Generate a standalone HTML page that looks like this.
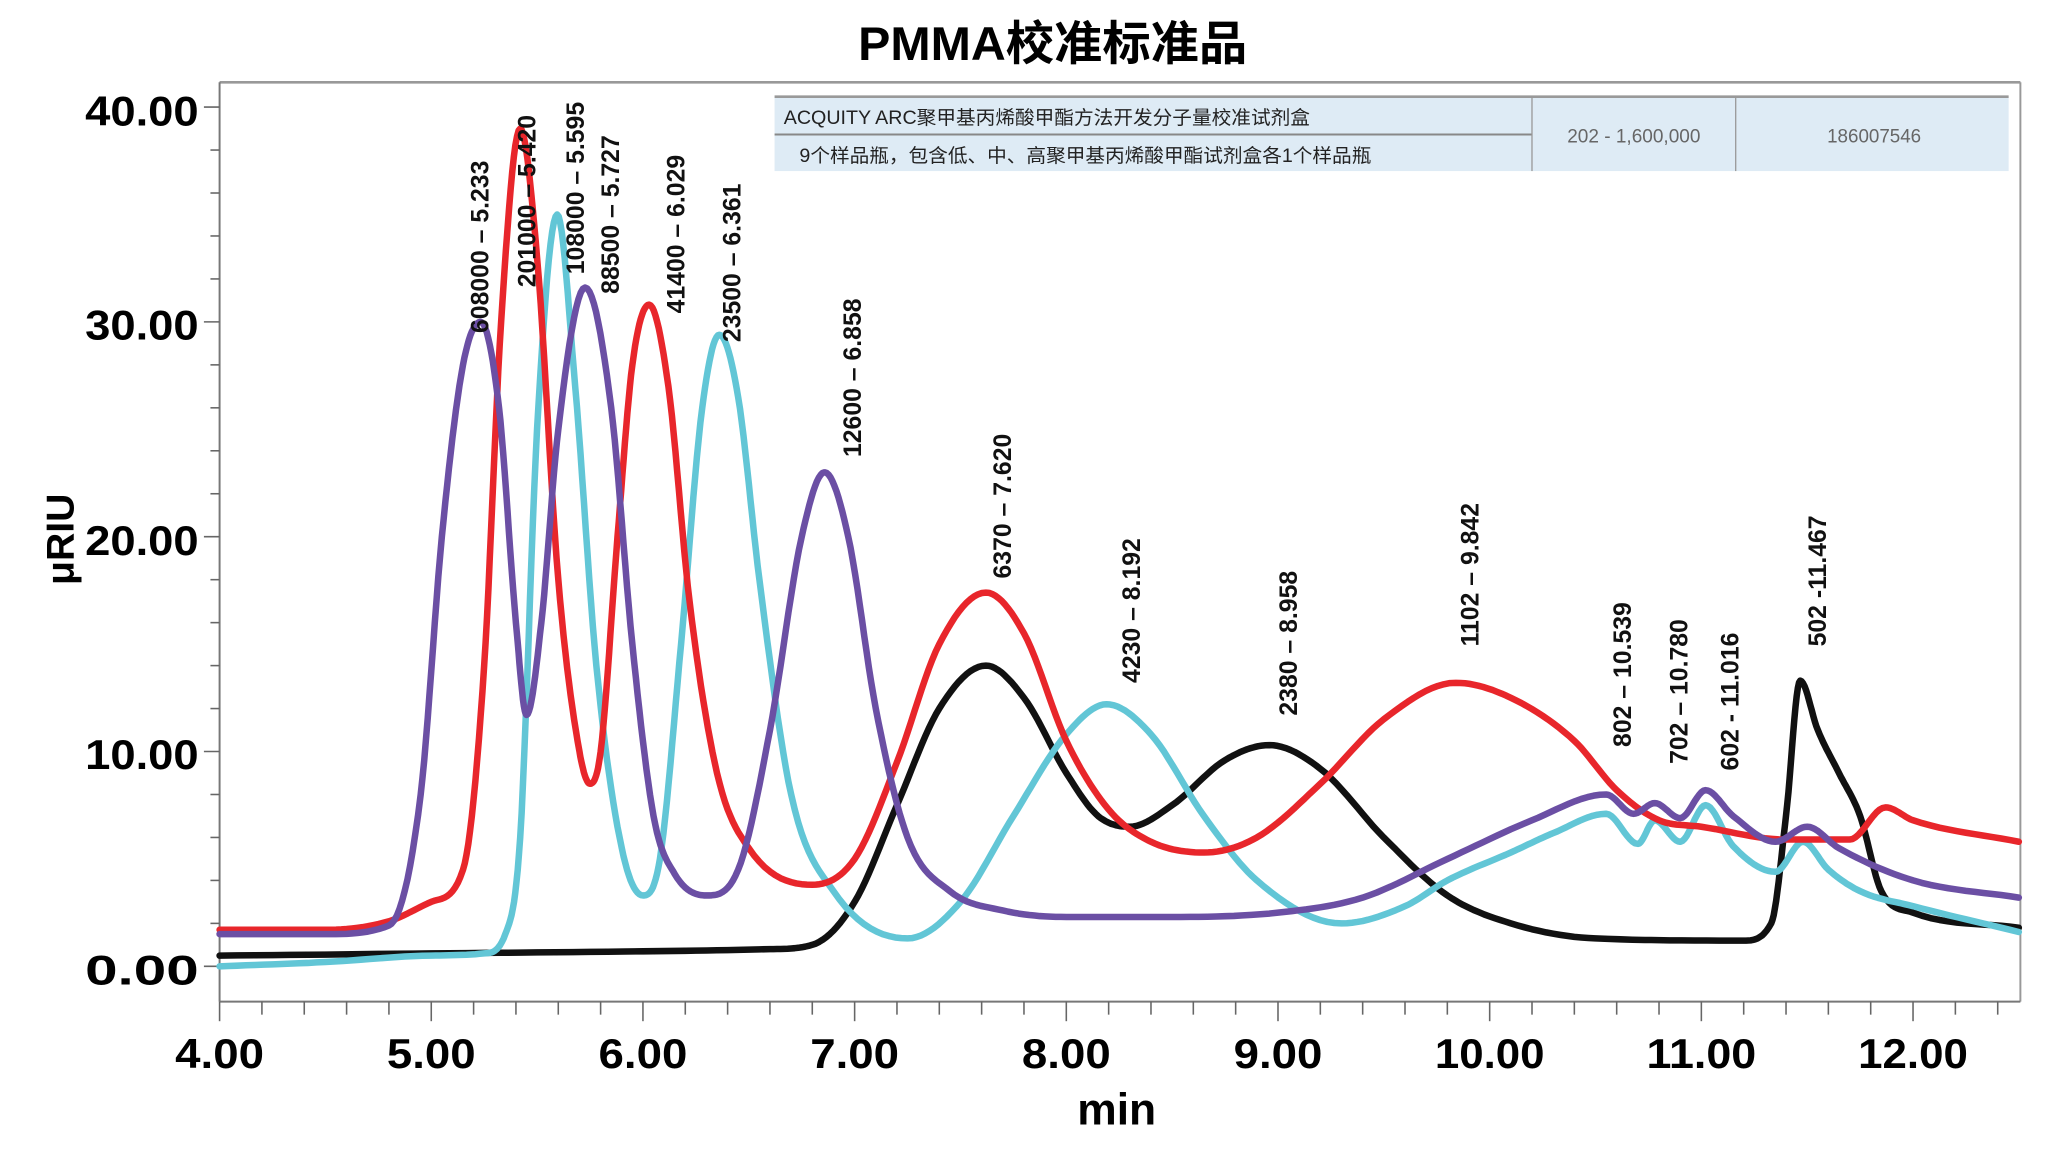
<!DOCTYPE html>
<html><head><meta charset="utf-8">
<style>
html,body{margin:0;padding:0;background:#fff;}
svg{display:block;}
text{font-family:"Liberation Sans","Noto Sans CJK SC",sans-serif;}
</style></head>
<body>
<svg id="s" width="2048" height="1157" viewBox="0 0 1568 886" xmlns="http://www.w3.org/2000/svg">
<rect width="1568" height="886" fill="#fff"/>
<text x="806" y="46" text-anchor="middle" font-size="36" font-weight="bold" fill="#000" textLength="298" lengthAdjust="spacingAndGlyphs">PMMA校准标准品</text>
<line x1="168" y1="63" x2="1547" y2="63" stroke="#999" stroke-width="2"/>
<line x1="1547" y1="63" x2="1547" y2="767" stroke="#999" stroke-width="1.5"/>
<line x1="168" y1="63" x2="168" y2="767" stroke="#777" stroke-width="1.5"/>
<line x1="168" y1="767" x2="1547" y2="767" stroke="#777" stroke-width="1.5"/>
<g id="ticks" stroke="#666" stroke-width="1.2"></g>
<rect x="593" y="74" width="945" height="57" fill="#deebf5"/>
<line x1="593" y1="74" x2="1538" y2="74" stroke="#999" stroke-width="2"/>
<line x1="593" y1="103" x2="1173" y2="103" stroke="#888" stroke-width="1.5"/>
<line x1="1173" y1="74" x2="1173" y2="131" stroke="#999" stroke-width="1"/>
<line x1="1329" y1="74" x2="1329" y2="131" stroke="#999" stroke-width="1"/>
<text x="600" y="95" font-size="14.5" fill="#222" textLength="403" lengthAdjust="spacingAndGlyphs">ACQUITY ARC聚甲基丙烯酸甲酯方法开发分子量校准试剂盒</text>
<text x="612" y="124" font-size="14.5" fill="#222" textLength="438" lengthAdjust="spacingAndGlyphs">9个样品瓶，包含低、中、高聚甲基丙烯酸甲酯试剂盒各1个样品瓶</text>
<text x="1251" y="109" text-anchor="middle" font-size="14.5" fill="#666" textLength="102" lengthAdjust="spacingAndGlyphs">202 - 1,600,000</text>
<text x="1435" y="109" text-anchor="middle" font-size="14.5" fill="#666" textLength="72" lengthAdjust="spacingAndGlyphs">186007546</text>
<g font-size="32" font-weight="bold" fill="#000" text-anchor="end">
<text x="152" y="96" textLength="87" lengthAdjust="spacingAndGlyphs">40.00</text>
<text x="152" y="260" textLength="87" lengthAdjust="spacingAndGlyphs">30.00</text>
<text x="152" y="425" textLength="87" lengthAdjust="spacingAndGlyphs">20.00</text>
<text x="152" y="589" textLength="87" lengthAdjust="spacingAndGlyphs">10.00</text>
<text x="152" y="754" textLength="87" lengthAdjust="spacingAndGlyphs">0.00</text>
</g>
<g id="xl" font-size="32" font-weight="bold" fill="#000" text-anchor="middle"></g>
<text x="855" y="861" text-anchor="middle" font-size="34" font-weight="bold">min</text>
<text transform="translate(56,413) rotate(-90)" text-anchor="middle" font-size="30" font-weight="bold">μRIU</text>
<g id="curves" fill="none" stroke-width="5" stroke-linejoin="round" stroke-linecap="round"></g>
<g id="labels" font-size="19" font-weight="bold" fill="#111"></g>
</svg>
<script>
var NS="http://www.w3.org/2000/svg";
function X(t){return 168+162.1*(t-4);}
function Y(v){return 740-16.45*v;}
function el(n,a,p,txt){var e=document.createElementNS(NS,n);for(var k in a)e.setAttribute(k,a[k]);if(txt!==undefined)e.textContent=txt;p.appendChild(e);return e;}
var tk=document.getElementById('ticks');
for(var v=0;v<=40.01;v+=2){var big=Math.abs(v%10)<0.01;el('line',{x1:big?156:161,y1:Y(v),x2:168,y2:Y(v)},tk);}
for(var i=0;i<=42;i++){var t=4+i*0.2;var big=i%5==0;el('line',{x1:X(t),y1:767,x2:X(t),y2:big?782:777},tk);}
var xl=document.getElementById('xl');
for(var t=4;t<=12;t++){el('text',{x:X(t),y:818,textLength:t>=10?84:68,lengthAdjust:'spacingAndGlyphs'},xl,t.toFixed(2));}
function mono(pts){
 var n=pts.length,x=pts.map(p=>p[0]),y=pts.map(p=>p[1]),d=[],m=[];
 for(var i=0;i<n-1;i++)d.push((y[i+1]-y[i])/(x[i+1]-x[i]));
 m[0]=d[0];m[n-1]=d[n-2];
 for(var i=1;i<n-1;i++){if(d[i-1]*d[i]<=0)m[i]=0;else{m[i]=(d[i-1]+d[i])/2;}}
 for(var i=0;i<n-1;i++){if(d[i]==0){m[i]=0;m[i+1]=0;continue;}var a=m[i]/d[i],b=m[i+1]/d[i],s=a*a+b*b;if(s>9){var tt=3/Math.sqrt(s);m[i]=tt*a*d[i];m[i+1]=tt*b*d[i];}}
 var out="M"+X(x[0]).toFixed(1)+","+Y(y[0]).toFixed(1);
 for(var i=0;i<n-1;i++){var h=x[i+1]-x[i];
  for(var k=1;k<=12;k++){var s=k/12,h00=2*s*s*s-3*s*s+1,h10=s*s*s-2*s*s+s,h01=-2*s*s*s+3*s*s,h11=s*s*s-s*s;
   var yy=h00*y[i]+h10*h*m[i]+h01*y[i+1]+h11*h*m[i+1];out+="L"+X(x[i]+s*h).toFixed(1)+","+Y(yy).toFixed(1);}}
 return out;}
var P=[[4,1.5],[4.5,1.5],[4.8,1.9],[4.95,8],[5.05,20],[5.15,28],[5.233,30],[5.32,26],[5.4,16],[5.45,11.7],[5.52,16],[5.6,25],[5.727,31.6],[5.85,26],[5.95,15],[6.05,7],[6.15,4.3],[6.3,3.3],[6.45,4.5],[6.6,11],[6.75,20],[6.858,23],[6.97,20],[7.1,12],[7.25,6],[7.45,3.5],[7.7,2.6],[8,2.3],[8.5,2.3],[9,2.5],[9.4,3.2],[9.8,5],[10.2,6.8],[10.55,8],[10.68,7.1],[10.78,7.6],[10.9,6.9],[11.02,8.2],[11.15,7],[11.35,5.8],[11.5,6.5],[11.65,5.5],[12,4],[12.5,3.2]];
var R=[[4,1.7],[4.5,1.7],[4.8,2.1],[5.0,3.0],[5.15,4.5],[5.25,14],[5.33,30],[5.42,39],[5.5,33],[5.6,18],[5.7,10],[5.75,8.5],[5.8,10],[5.88,20],[5.95,28],[6.029,30.8],[6.12,27],[6.22,17],[6.35,9],[6.5,5.5],[6.8,3.8],[7.0,5],[7.2,9.5],[7.4,15],[7.62,17.4],[7.8,15.5],[8.0,10.5],[8.2,7.3],[8.4,5.8],[8.65,5.3],[8.9,6],[9.2,8.5],[9.5,11.5],[9.84,13.2],[10.1,12.5],[10.4,10.5],[10.6,8.2],[10.8,6.8],[11,6.5],[11.4,5.9],[11.7,5.9],[11.87,7.4],[12.0,6.8],[12.5,5.8]];
var C=[[4,0],[4.5,0.2],[5.0,0.5],[5.25,0.6],[5.35,1.5],[5.42,6],[5.5,25],[5.595,35],[5.68,27],[5.78,14],[5.9,5.5],[6.0,3.3],[6.08,5],[6.18,15],[6.28,26],[6.361,29.4],[6.45,26.5],[6.55,18],[6.7,8],[6.9,3.5],[7.25,1.3],[7.5,3],[7.75,7],[8.0,10.8],[8.19,12.2],[8.4,10.8],[8.65,7],[8.9,4],[9.3,2.0],[9.6,2.8],[9.8,4],[10.1,5.3],[10.3,6.2],[10.55,7.1],[10.7,5.7],[10.78,6.8],[10.9,5.8],[11.02,7.5],[11.15,5.6],[11.35,4.4],[11.48,5.8],[11.6,4.5],[11.75,3.5],[12,2.8],[12.5,1.6]];
var B=[[4,0.5],[5,0.6],[6,0.7],[6.6,0.8],[6.8,1.0],[7.0,3],[7.2,7.5],[7.4,12],[7.62,14],[7.8,12.5],[8.0,9],[8.15,7],[8.3,6.5],[8.5,7.5],[8.75,9.6],[8.958,10.3],[9.2,9.2],[9.5,6],[9.8,3.3],[10.1,2],[10.5,1.3],[11.2,1.2],[11.33,2],[11.4,7],[11.467,13.3],[11.55,11],[11.65,9],[11.75,7],[11.85,3.5],[12,2.5],[12.5,1.8]];
var cg=document.getElementById('curves');
el('path',{d:mono(B),stroke:'#111'},cg);
el('path',{d:mono(C),stroke:'#62c6d6'},cg);
el('path',{d:mono(R),stroke:'#e8262b'},cg);
el('path',{d:mono(P),stroke:'#6b4fa4'},cg);
var L=[["608000 – 5.233",367,255],["201000 – 5.420",403,220],["108000 – 5.595",440,210],["88500 – 5.727",467,225],["41400 – 6.029",517,240],["23500 – 6.361",560,262],["12600 – 6.858",652,350],["6370 – 7.620",767,443],["4230 – 8.192",866,523],["2380 – 8.958",986,548],["1102 – 9.842",1125,495],["802 – 10.539",1242,572],["702 – 10.780",1285,585],["602 - 11.016",1324,590],["502 -11.467",1391,495]];
var lg=document.getElementById('labels');
L.forEach(function(l){el('text',{transform:'translate('+(l[1]+7)+','+l[2]+') rotate(-90)'},lg,l[0]);});
</script>
</body></html>
